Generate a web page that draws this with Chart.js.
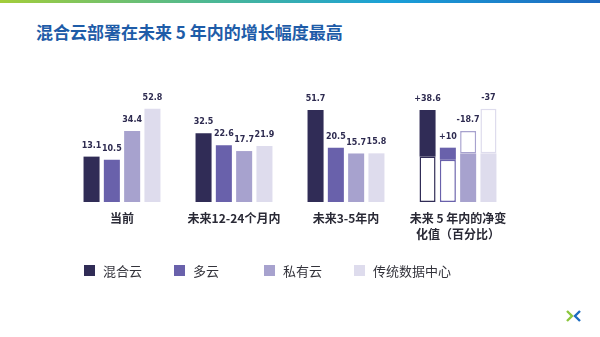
<!DOCTYPE html>
<html>
<head>
<meta charset="utf-8">
<script src="https://cdn.jsdelivr.net/npm/chart.js@4"></script>
<style>
  body { margin: 0; background: #fff; }
  #wrap { position: relative; width: 600px; height: 337px; overflow: hidden; background: #fff; }
  #topbar { position: absolute; left: 0; top: 0; width: 600px; height: 3px;
    background: linear-gradient(90deg, #a3cd3a 0%, #4cb894 35%, #1aa0d8 65%, #1d68bf 100%); }
  #title { position: absolute; left: 36px; top: 19px; font: bold 17px "Noto Sans CJK SC", sans-serif;
    color: #1e5ca8; white-space: nowrap; }
  #chart { position: absolute; left: 0; top: 0; }
  #legend { position: absolute; left: 84px; top: 261px; height: 18px; display: flex; }
  .item { width: 90px; display: flex; align-items: center; font: 13px "Noto Sans CJK SC", sans-serif; color: #33333b; white-space: nowrap; }
  .item span.box { width: 11px; height: 11px; margin-right: 8px; flex: none; }
  #logo { position: absolute; left: 564px; top: 309px; }
</style>
</head>
<body>
<div id="wrap">
  <div id="topbar"></div>
  <div id="title">混合云部署在未来 5 年内的增长幅度最高</div>
  <canvas id="chart" width="600" height="337"></canvas>
  <div id="legend"></div>
  <svg id="logo" width="20" height="14" viewBox="0 0 20 14">
    <polyline points="3,2 8,7 3,12" fill="none" stroke="#8cc63e" stroke-width="2.4"/>
    <polyline points="16,2 11,7 16,12" fill="none" stroke="#1c6cc0" stroke-width="2.4"/>
  </svg>
</div>
<script>
const categories = ['当前', '未来12-24个月内', '未来3-5年内', ['未来 5 年内的净变', '化值（百分比）']];
const seriesNames = ['混合云', '多云', '私有云', '传统数据中心'];
const colors = ['#302c56', '#6961ab', '#a7a2ce', '#dedced'];

// values per series: [当前, 未来12-24个月内, 未来3-5年内]
const hybrid = [13.1, 32.5, 51.7];
const multi = [10.5, 22.6, 20.5];
const privateCloud = [34.4, 17.7, 15.7];
const dataCenter = [52.8, 21.9, 15.8];
const netChange = [38.6, 10, -18.7, -37];

const allSeries = [hybrid, multi, privateCloud, dataCenter];
const axisBase = -24.5;

const datasets = [];
allSeries.forEach((vals, i) => {
  const now = vals[0], later = vals[2];
  // filled part: growth segment if rising, remaining level if falling
  const filled = later >= now ? [now, later] : [axisBase, later];
  const empty = later >= now ? [axisBase, now] : [later, now];
  datasets.push({
    label: seriesNames[i],
    data: [vals[0], vals[1], vals[2], filled],
    backgroundColor: colors[i],
    base: axisBase,
    stack: 's' + i,
    borderWidth: 0
  });
  datasets.push({
    label: seriesNames[i] + '_empty',
    data: [null, null, null, empty],
    backgroundColor: '#ffffff',
    borderColor: colors[i],
    borderWidth: 1.5,
    borderSkipped: false,
    stack: 's' + i
  });
});

const valueLabels = {
  id: 'valueLabels',
  afterDatasetsDraw(chart) {
    const ctx = chart.ctx;
    ctx.save();
    ctx.font = 'bold 8px "DejaVu Sans", sans-serif';
    ctx.fillStyle = '#2e2b50';
    ctx.textAlign = 'center';
    ctx.textBaseline = 'middle';
    const y = chart.scales.y;
    allSeries.forEach((vals, i) => {
      const meta = chart.getDatasetMeta(i * 2);
      for (let c = 0; c < 3; c++) {
        const bar = meta.data[c];
        ctx.fillText(String(vals[c]), bar.x, bar.y - 11);
      }
      const top = y.getPixelForValue(Math.max(vals[0], vals[2]));
      const n = netChange[i];
      ctx.fillText((n > 0 ? '+' : '-') + Math.abs(n), meta.data[3].x, top - 11);
    });
    ctx.restore();
  }
};

new Chart(document.getElementById('chart'), {
  type: 'bar',
  data: { labels: categories, datasets: datasets },
  options: {
    responsive: false,
    animation: false,
    layout: { padding: { left: 66, right: 86, top: 100, bottom: 95 } },
    datasets: { bar: { categoryPercentage: 0.725, barPercentage: 0.79 } },
    plugins: { legend: { display: false }, tooltip: { enabled: false } },
    scales: {
      x: {
        stacked: true,
        grid: { display: false, drawTicks: false },
        border: { display: false },
        ticks: {
          padding: 9,
          color: '#2a2a36',
          font: { family: '"Noto Sans CJK SC", sans-serif', size: 12, weight: 'bold', lineHeight: 1.3 },
          maxRotation: 0,
          autoSkip: false
        },
        afterFit(scale) { scale.height = 40; }
      },
      y: {
        stacked: false,
        display: false,
        min: axisBase,
        max: 60
      }
    }
  },
  plugins: [valueLabels]
});

const legend = document.getElementById('legend');
seriesNames.forEach((name, i) => {
  const item = document.createElement('div');
  item.className = 'item';
  const box = document.createElement('span');
  box.className = 'box';
  box.style.background = colors[i];
  item.appendChild(box);
  item.appendChild(document.createTextNode(name));
  legend.appendChild(item);
});
</script>
</body>
</html>
